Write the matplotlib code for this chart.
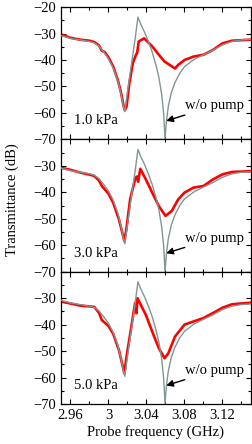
import numpy as np
import matplotlib.pyplot as plt
from matplotlib.ticker import MultipleLocator

plt.rcParams['font.family'] = ['Liberation Serif', 'DejaVu Serif']
plt.rcParams['mathtext.fontset'] = 'stix'

# w/o pump reference (same in every panel)
f_ref = [2.95, 2.96, 2.97, 2.98, 2.985, 2.99, 2.995, 3.0, 3.005, 3.01, 3.013,
         3.016, 3.0172, 3.02, 3.024, 3.028, 3.031, 3.034, 3.038, 3.042, 3.046,
         3.05, 3.053, 3.056, 3.058, 3.0595, 3.061, 3.063, 3.066, 3.07, 3.075,
         3.08, 3.09, 3.1, 3.11, 3.12, 3.13, 3.14, 3.15]
t_ref = [-30.8, -31.8, -32.4, -33.0, -33.5, -34.8, -37.0, -39.5, -43.0, -48.0,
         -52.5, -58.0, -59.5, -52.0, -42.0, -32.0, -23.8, -26.5, -29.5, -33.0,
         -37.0, -42.0, -46.5, -53.0, -60.0, -69.7, -63.0, -57.5, -52.5, -48.5,
         -45.0, -42.5, -39.8, -38.0, -36.3, -34.3, -33.0, -32.4, -32.2]

# with pump, 1.0 kPa
f1 = [2.95, 2.96, 2.97, 2.98, 2.985, 2.99, 2.993, 2.996, 3.0, 3.005, 3.01,
      3.013, 3.016, 3.0172, 3.019, 3.022, 3.0256, 3.029, 3.0302, 3.0318,
      3.0375, 3.0462, 3.053, 3.0588, 3.0667, 3.07, 3.0735, 3.08, 3.0895, 3.1,
      3.11, 3.12, 3.13, 3.15]
t1 = [-30.3, -31.6, -32.3, -32.7, -33.2, -34.5, -36.5, -37.0, -39.0, -42.5,
      -47.8, -52.0, -57.5, -59.0, -57.6, -48.7, -41.2, -38.0, -37.3, -33.0,
      -31.8, -34.9, -38.0, -40.5, -42.4, -43.2, -41.8, -40.0, -38.7, -38.0,
      -36.2, -33.7, -32.7, -32.3]

# with pump, 3.0 kPa
f2 = [2.95, 2.96, 2.97, 2.98, 2.985, 2.99, 2.993, 3.0, 3.005, 3.011, 3.0167,
      3.0188, 3.0228, 3.028, 3.0298, 3.0312, 3.0335, 3.0393, 3.046, 3.053,
      3.06, 3.0667, 3.0735, 3.08, 3.0895, 3.1, 3.11, 3.12, 3.13, 3.15]
t2 = [-30.7, -31.5, -32.5, -33.3, -33.8, -35.5, -37.6, -40.5, -44.0, -50.2,
      -58.4, -54.0, -42.6, -35.1, -34.0, -36.0, -31.1, -35.1, -40.1, -45.2,
      -48.9, -47.0, -42.6, -40.1, -38.2, -37.6, -35.1, -33.2, -32.3, -32.0]

# with pump, 5.0 kPa
f3 = [2.95, 2.96, 2.97, 2.98, 2.985, 2.99, 2.993, 3.0, 3.005, 3.011, 3.0167,
      3.0188, 3.023, 3.028, 3.0295, 3.0305, 3.0393, 3.046, 3.053, 3.059,
      3.063, 3.07, 3.08, 3.0895, 3.1, 3.11, 3.12, 3.13, 3.15]
t3 = [-31.3, -32.0, -32.8, -33.1, -33.3, -35.5, -38.3, -40.5, -43.5, -49.6,
      -58.4, -52.5, -43.2, -31.8, -35.7, -30.0, -36.3, -42.6, -48.9, -52.7,
      -50.8, -44.5, -40.0, -38.8, -37.5, -35.6, -33.6, -32.3, -31.7]

pressures = ['1.0 kPa', '3.0 kPa', '5.0 kPa']
freqs = [f1, f2, f3]
trans = [t1, t2, t3]

gray = '#839595'

fig, axes = plt.subplots(3, 1, figsize=(2.52, 4.44), dpi=100, sharex=True)
fig.subplots_adjust(left=0.242, right=0.996, top=0.984, bottom=0.090, hspace=0)

for i, ax in enumerate(axes):
  ax.plot(freqs[i], trans[i], color='red', lw=1.9, zorder=2)
  ax.plot(f_ref, t_ref, color=gray, lw=1.0, zorder=3)
  ax.set_xlim(2.95, 3.15)
  ax.set_ylim(-70, -20)
  ax.set_yticks(np.arange(-70, -10, 10))
  if i == 0:
    ax.set_yticklabels(['\u221270', '\u221260', '\u221250', '\u221240', '\u221230', '\u221220'])
  else:
    ax.set_yticklabels(['\u221270', '\u221260', '\u221250', '\u221240', '\u221230', ''])
  ax.yaxis.set_minor_locator(MultipleLocator(5))
  ax.set_xticks([2.96, 3.0, 3.04, 3.08, 3.12])
  ax.set_xticklabels(['2.96', '3', '3.04', '3.08', '3.12'])
  ax.xaxis.set_minor_locator(MultipleLocator(0.02))
  ax.tick_params(which='both', direction='in', top=True, right=True, labelsize=10.5)
  ax.tick_params(which='major', length=3.5, width=0.8)
  ax.tick_params(which='minor', length=2, width=0.8)
  for s in ax.spines.values():
    s.set_linewidth(0.9)
  ax.text(2.9635, -63, pressures[i], fontsize=10.5, ha='left', va='center')
  ax.annotate('w/o pump', xy=(3.0608, -63.0), xytext=(3.0805, -57.3),
              fontsize=10.5, ha='left', va='center',
              arrowprops=dict(arrowstyle='-|>', color='black', lw=1.0,
                              mutation_scale=10, shrinkA=0, shrinkB=0))

axes[2].set_xlabel('Probe frequency (GHz)', fontsize=10.5, labelpad=2)
fig.text(0.05, 0.55, 'Transmittance (dB)', rotation=90, fontsize=10.5,
         ha='center', va='center')

plt.savefig('out.png', dpi=100)
